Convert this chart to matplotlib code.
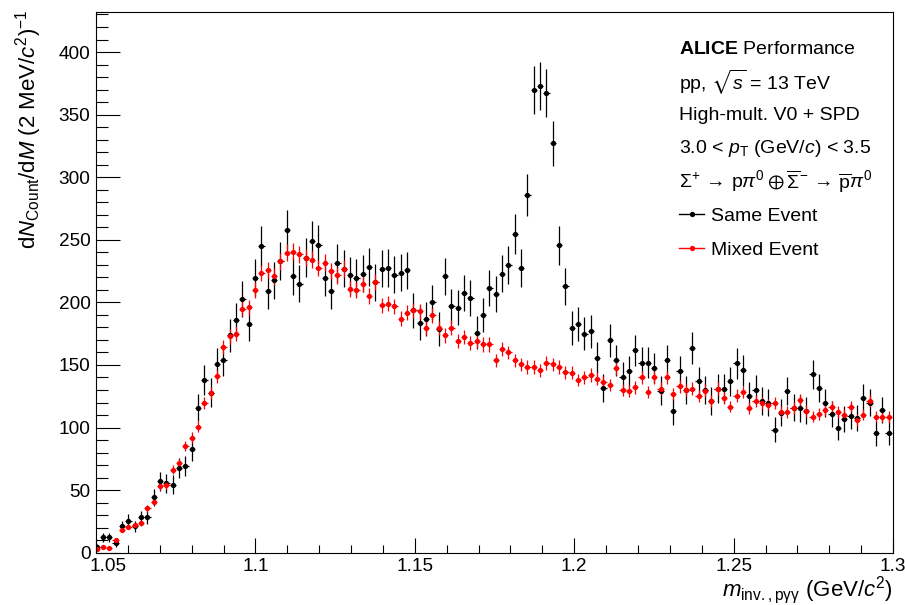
import numpy as np
import matplotlib
matplotlib.use('Agg')
import matplotlib.pyplot as plt
import matplotlib.ticker as mticker
from matplotlib.lines import Line2D

# ---- data: counts per 2 MeV bin -------------------------------------------
MASS_LO, MASS_HI = 1.0502, 1.2986          # first / last bin centre (GeV/c^2)

same_event = [
    4.8, 12.3, 12.3, 7.7, 21, 25.6, 21, 28.3, 28.3, 44.3,
    57, 55.5, 54.4, 67.7, 69.3, 82.7, 116, 138, 128, 151,
    153.6, 173.6, 185.6, 202.7, 182.7, 219.7, 245, 208.8, 217.6, 232.8,
    257.9, 220.8, 215, 235.7, 249, 246, 219.7, 209, 231.7, 227,
    221.6, 219.7, 223, 228, 216, 227, 227.7, 222, 223.7, 225.6,
    193.6, 183.7, 187, 200, 178.6, 220.8, 196.8, 195.7, 207.7, 203.7,
    175.7, 189.9, 211.7, 206.6, 223, 230, 255, 227.7, 286, 370,
    373, 367.5, 327, 245.6, 212.8, 179.7, 183, 175, 176.8, 155.7,
    131.5, 169.6, 153.6, 140.3, 144.8, 161.6, 151.7, 151.7, 147.5, 129.6,
    153.6, 113, 144.8, 130, 163.7, 136.8, 130, 121, 131, 131,
    136.8, 151.4, 145.6, 125, 130.4, 121, 120, 98.4, 112, 129,
    116, 115.5, 113.6, 142.4, 131.5, 119.7, 111, 100, 107, 109,
    108, 123.7, 120, 95.4, 114, 96]

mixed_event = [
    3, 4.8, 4, 10, 18.4, 20.8, 22, 23.7, 35.5, 40.8,
    53.3, 54.4, 66.4, 71.5, 85.6, 92, 100.8, 119.5, 127.5, 141,
    164, 172.8, 175, 195, 196, 209.6, 223.5, 226, 220.8, 232.8,
    239.5, 240.3, 238.4, 235.7, 234, 227.5, 231.7, 225, 221.6, 227,
    211, 209.6, 215, 205, 216, 197.6, 199, 196.8, 187, 191.6,
    193.6, 193, 179.5, 189.8, 179.5, 173.6, 179.8, 168.9, 172.5, 167.7,
    169, 166.4, 166.4, 153.6, 163, 160, 153.6, 150.4, 148.3, 148.3,
    145.6, 151.4, 150.4, 148.3, 144.3, 143.7, 138, 140.3, 142, 139,
    136, 134, 147.5, 130, 129, 132, 140, 128.5, 140, 131,
    140, 127, 133, 130, 131, 125, 129.6, 121, 131, 124,
    116.8, 125.6, 128.3, 115.7, 121, 119.5, 118.4, 119.5, 112.8, 112.3,
    115.7, 122, 113, 108.8, 111, 114, 116.8, 112.3, 110.4, 116.8,
    106, 110.4, 121, 108.8, 108.8, 108.3]

MIXED_NORM = 5.2   # mixed-event sample is scaled down -> smaller stat. errors

info_lines = [
    r'$\mathbf{ALICE}$ Performance',
    r'pp, $\sqrt{s}$ = 13 TeV',
    'High-mult. V0 + SPD',
    r'3.0 < $p_{\mathrm{T}}$ (GeV/$c$) < 3.5',
    r'$\Sigma^{+}\,\rightarrow\,\mathrm{p}\pi^{0}\oplus\overline{\Sigma}^{-}'
    r'\,\rightarrow\,\overline{\mathrm{p}}\pi^{0}$',
]
legend_labels = ['Same Event', 'Mixed Event']
BLACK, RED = '#000000', '#ff0000'
FS = 14
TICK_FS = 13.7

plt.rcParams.update({
    'font.family': ['Liberation Sans', 'DejaVu Sans'],
    'mathtext.fontset': 'custom',
    'mathtext.rm': 'Liberation Sans',
    'mathtext.it': 'Liberation Sans:italic',
    'mathtext.bf': 'Liberation Sans:bold',
    'mathtext.fallback': 'stixsans',
    'axes.linewidth': 0.8,
})

same = np.array(same_event, dtype=float)
mixed = np.array(mixed_event, dtype=float)
mass = np.linspace(MASS_LO, MASS_HI, len(same))
half_bin = (mass[1] - mass[0]) / 2

fig = plt.figure(figsize=(9.05, 6.05), dpi=100)
ax = fig.add_axes([0.1061, 0.0864, 0.8807, 0.8938])

kw = dict(fmt='o', ms=3.8, mew=0, elinewidth=0.9, capsize=2.3, capthick=0.9)
ax.errorbar(mass, same, xerr=half_bin, yerr=np.sqrt(same),
            color=BLACK, ecolor=BLACK, **kw)
ax.errorbar(mass, mixed, xerr=half_bin, yerr=np.sqrt(mixed / MIXED_NORM),
            color=RED, ecolor=RED, **kw)

XMIN, XMAX = 1.05, 1.3
ax.set_xlim(XMIN, XMAX)
ax.set_ylim(0, 432)
ax.xaxis.set_major_locator(mticker.MultipleLocator(0.05))
ax.xaxis.set_minor_locator(mticker.MultipleLocator(0.01))
ax.yaxis.set_major_locator(mticker.MultipleLocator(50))
ax.yaxis.set_minor_locator(mticker.MultipleLocator(10))
# first x label is drawn separately, nudged off the corner like ROOT does
ax.xaxis.set_major_formatter(mticker.FuncFormatter(
    lambda v, _: '' if abs(v - XMIN) < 1e-9 else f'{v:g}'))
ax.tick_params(which='both', direction='in', top=False, right=False, width=0.8)
ax.tick_params(axis='y', which='major', length=17, labelsize=TICK_FS, pad=4)
ax.tick_params(axis='y', which='minor', length=8.5)
ax.tick_params(axis='x', which='major', length=11, labelsize=TICK_FS, pad=4)
ax.tick_params(axis='x', which='minor', length=5.5)
ax.annotate(f'{XMIN:g}', xy=(XMIN, 0), xycoords=('data', 'axes fraction'),
            xytext=(8.5, -4), textcoords='offset points',
            ha='center', va='top', fontsize=TICK_FS)

fig.text(0.032, 0.985, r'd$N_{\mathrm{Count}}$/d$M$ (2 MeV/$c^{2}$)$^{-1}$',
         rotation=90, ha='center', va='top', fontsize=16)
fig.text(0.987, 0.025, r'$m_{\mathrm{inv.,p\gamma\gamma}}$ (GeV/$c^{2}$)',
         ha='right', va='center', fontsize=16)

# ---- info block + legend ----------------------------------------------------
x0 = 0.7315
y_top, dy = 0.931, 0.0610
for k, line in enumerate(info_lines):
    ax.text(x0, y_top - k * dy, line, transform=ax.transAxes,
            ha='left', va='center', fontsize=FS)

handles = [Line2D([], [], color=c, lw=1.0, marker='o', ms=3.8, mew=0)
           for c in (BLACK, RED)]
ax.legend(handles, legend_labels, loc='upper left',
          bbox_to_anchor=(x0, 0.6394), frameon=False,
          fontsize=FS, handlelength=1.3, handletextpad=0.32,
          borderpad=0, borderaxespad=0, labelspacing=0.84)

fig.savefig('out.png', dpi=100, facecolor='white')
